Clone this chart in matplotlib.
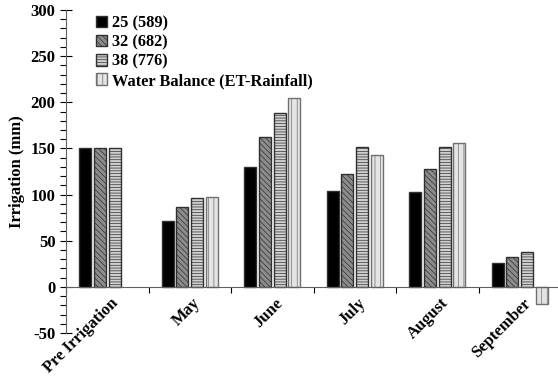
import numpy as np
import matplotlib
matplotlib.use("Agg")
import matplotlib.pyplot as plt
from matplotlib.ticker import MultipleLocator

categories = ['Pre Irrigation', 'May', 'June', 'July', 'August', 'September']
series_names = ['25 (589)', '32 (682)', '38 (776)', 'Water Balance (ET-Rainfall)']
s25 = [151, 71, 130, 104, 103, 26]
s32 = [151, 87, 162, 122, 128, 32]
s38 = [151, 96, 188, 152, 152, 38]
wb = [np.nan, 97, 205, 143, 156, -19]

plt.rcParams['font.family'] = ['Liberation Serif', 'DejaVu Serif']
plt.rcParams['font.weight'] = 'bold'
plt.rcParams['hatch.linewidth'] = 0.5
plt.rcParams['axes.unicode_minus'] = False

fig = plt.figure(figsize=(5.58, 3.85), dpi=100)
ax = fig.add_axes([66 / 558, 1 - 333 / 385, 495 / 558, 323 / 385])

styles = [
    dict(facecolor='black', edgecolor='#303030', hatch=None),
    dict(facecolor='#8c8c8c', edgecolor='#303030', hatch='\\\\\\\\\\\\'),
    dict(facecolor='#d0d0d0', edgecolor='#303030', hatch='------'),
    dict(facecolor='#e4e4e4', edgecolor='#707070', hatch='|||'),
]

x = np.arange(len(categories)) + 0.5
step = 0.178
width = 0.145
for i, (vals, name, st) in enumerate(zip([s25, s32, s38, wb], series_names, styles)):
    ax.bar(x + (i - 1.5) * step, vals, width, label=name, linewidth=1.0, **st)

ax.set_xlim(0, 6)
ax.set_ylim(-50, 300)
ax.yaxis.set_major_locator(MultipleLocator(50))
ax.yaxis.set_minor_locator(MultipleLocator(10))
ax.tick_params(axis='y', which='major', direction='inout', length=8, width=0.8, labelsize=12)
ax.tick_params(axis='y', which='minor', direction='out', length=4, width=0.8)

ax.set_xticks(np.arange(0, 7))
ax.set_xticklabels([])
ax.tick_params(axis='x', which='major', direction='out', length=4, width=0.8, bottom=True)
for xi, lab in zip(x, categories):
    ax.annotate(lab, xy=(xi, 0), xycoords='data', xytext=(2, -6),
                textcoords='offset points', rotation=45, ha='right', va='top',
                rotation_mode='anchor', fontsize=12, fontweight='bold')

ax.spines['top'].set_visible(False)
ax.spines['right'].set_visible(False)
ax.spines['bottom'].set_position(('data', 0))
ax.spines['bottom'].set_color('#606060')
ax.spines['left'].set_color('#606060')

ax.set_ylabel('Irrigation (mm)', fontsize=12, fontweight='bold', labelpad=4)

ax.legend(loc='upper left', bbox_to_anchor=(0.03, 1.03), frameon=False,
          handlelength=0.7, handleheight=0.7, handletextpad=0.3, labelspacing=0.2,
          prop={'weight': 'bold', 'size': 11.8})

fig.savefig('out.png', dpi=100)
